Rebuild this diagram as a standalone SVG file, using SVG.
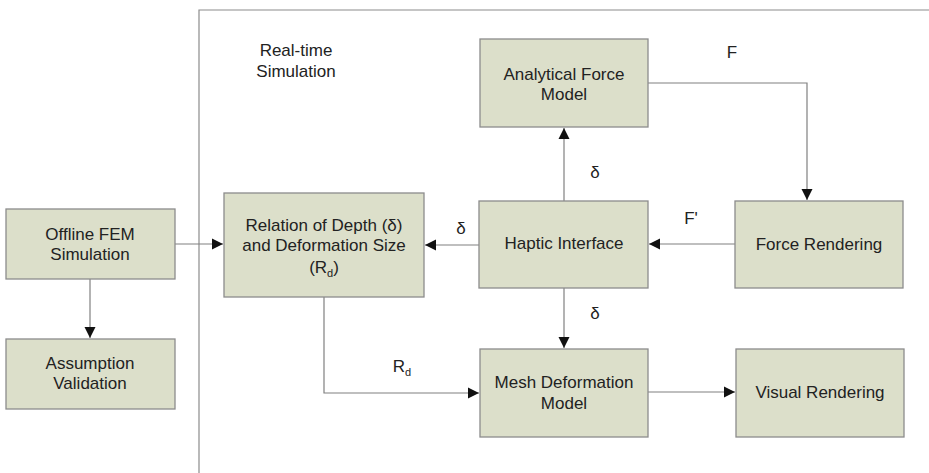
<svg xmlns="http://www.w3.org/2000/svg" width="929" height="473" viewBox="0 0 929 473">
<style>
.box{fill:#dcdfca;stroke:#8c8c8c;stroke-width:1.3}
.t{font-family:"Liberation Sans",Arial,sans-serif;font-size:17px;fill:#222;text-anchor:middle}
.c{fill:none;stroke:#808080;stroke-width:1.2}
</style>
<defs>
<marker id="ah" markerWidth="12" markerHeight="12" refX="11" refY="6" orient="auto" markerUnits="userSpaceOnUse">
<path d="M0,0.5 L11,6 L0,11.5 Z" fill="#111"/>
</marker>
</defs>
<rect width="929" height="473" fill="#fff"/>
<path d="M199,473 V10 H929" fill="none" stroke="#8c8c8c" stroke-width="1.2"/>
<text class="t" x="296" y="56">Real-time</text>
<text class="t" x="296" y="77">Simulation</text>

<g id="connectors">
<path class="c" d="M175,244 H223" marker-end="url(#ah)"/>
<path class="c" d="M90,279 V338" marker-end="url(#ah)"/>
<path class="c" d="M479,245 H425" marker-end="url(#ah)"/>
<path class="c" d="M564,201 V128" marker-end="url(#ah)"/>
<path class="c" d="M564,288 V348" marker-end="url(#ah)"/>
<path class="c" d="M648,83 H807 V200" marker-end="url(#ah)"/>
<path class="c" d="M735,244 H649" marker-end="url(#ah)"/>
<path class="c" d="M324,297 V393 H479" marker-end="url(#ah)"/>
<path class="c" d="M648,392 H735" marker-end="url(#ah)"/>
<text class="t" x="461" y="234">δ</text>
<text class="t" x="595" y="178">δ</text>
<text class="t" x="595" y="319">δ</text>
<text class="t" x="732" y="58">F</text>
<text class="t" x="691" y="224">F'</text>
<text class="t" x="402" y="372">R<tspan font-size="11" dy="4">d</tspan></text>
</g>

<g id="offline-fem">
<rect class="box" x="6" y="209" width="169" height="70"/>
<text class="t" x="90" y="240">Offline FEM</text>
<text class="t" x="90" y="260">Simulation</text>
</g>
<g id="assumption-validation">
<rect class="box" x="6" y="339" width="169" height="70"/>
<text class="t" x="90" y="369">Assumption</text>
<text class="t" x="90" y="389">Validation</text>
</g>
<g id="relation">
<rect class="box" x="224" y="193" width="200" height="104"/>
<text class="t" x="324" y="231">Relation of Depth (δ)</text>
<text class="t" x="324" y="251">and Deformation Size</text>
<text class="t" x="324" y="273">(R<tspan font-size="11" dy="4">d</tspan><tspan dy="-4">)</tspan></text>
</g>
<g id="haptic-interface">
<rect class="box" x="479" y="201" width="169" height="87"/>
<text class="t" x="564" y="249">Haptic Interface</text>
</g>
<g id="analytical-force-model">
<rect class="box" x="480" y="39" width="168" height="88"/>
<text class="t" x="564" y="80">Analytical Force</text>
<text class="t" x="564" y="100">Model</text>
</g>
<g id="force-rendering">
<rect class="box" x="735" y="201" width="168" height="87"/>
<text class="t" x="819" y="250">Force Rendering</text>
</g>
<g id="mesh-deformation-model">
<rect class="box" x="480" y="349" width="168" height="88"/>
<text class="t" x="564" y="388">Mesh Deformation</text>
<text class="t" x="564" y="409">Model</text>
</g>
<g id="visual-rendering">
<rect class="box" x="736" y="349" width="168" height="88"/>
<text class="t" x="820" y="398">Visual Rendering</text>
</g>
</svg>
